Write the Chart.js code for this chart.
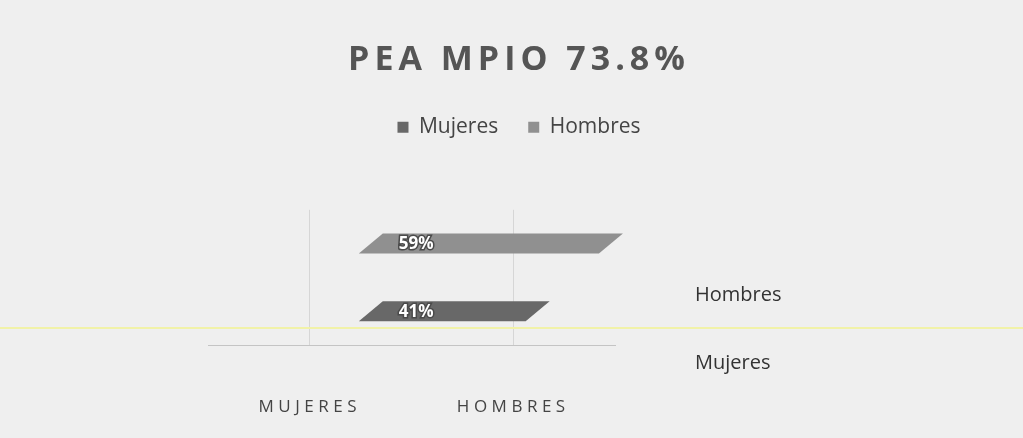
<!DOCTYPE html>
<html lang="es">
<head>
<meta charset="utf-8">
<title>PEA MPIO</title>
<script src="https://cdn.jsdelivr.net/npm/chart.js@4/dist/chart.umd.min.js"></script>
<style>
    html, body { margin: 0; padding: 0; background: #efefef; }
    #wrap { position: relative; width: 1023px; height: 438px; }
    /* linea amarilla del escaneo */
    #scanline { position: absolute; left: 0; top: 327px; width: 1023px; height: 2px; background: #f1f2a8; }
</style>
</head>
<body>
<div id="wrap">
    <canvas id="pea-chart"></canvas>
    <div id="scanline"></div>
</div>
<script>
/* global Chart */
const rowLabels = ['Hombres', 'Mujeres'];
const columnLabels = ['MUJERES', 'HOMBRES'];
const seriesNames = ['Mujeres', 'Hombres'];
const mujeresValues = [null, 41];
const hombresValues = [59, null];
const seriesColors = ['#686868', '#909090'];

const SKEW = 24;

// barras como paralelogramos (efecto 3D del original)
const slantedBars = {
    id: 'slantedBars',
    beforeDatasetDraw(chart, args) {
        const ctx = chart.ctx;
        const ds = chart.data.datasets[args.index];
        args.meta.data.forEach((bar, i) => {
            const value = ds.data[i];
            if (value === null || value === undefined) return;
            const h = bar.height / 2;
            const s = SKEW / 2;
            ctx.save();
            ctx.fillStyle = ds.backgroundColor;
            ctx.beginPath();
            ctx.moveTo(bar.base - s, bar.y + h);
            ctx.lineTo(bar.base + s, bar.y - h);
            ctx.lineTo(bar.x + s, bar.y - h);
            ctx.lineTo(bar.x - s, bar.y + h);
            ctx.closePath();
            ctx.fill();

            const text = value + '%';
            ctx.font = 'bold 17px "Open Sans"';
            ctx.textBaseline = 'middle';
            ctx.textAlign = 'left';
            ctx.lineWidth = 3;
            ctx.strokeStyle = '#4a4a4a';
            ctx.strokeText(text, bar.base + 28, bar.y + 1);
            ctx.fillStyle = '#ffffff';
            ctx.fillText(text, bar.base + 28, bar.y + 1);
            ctx.restore();
        });
        return false;
    }
};

// espaciado de letras en titulo y categorias
const letterSpacing = {
    id: 'letterSpacing',
    afterUpdate(chart) {
        const wrap = (obj, name, spacing) => {
            if (!obj || obj['_sp_' + name]) return;
            const orig = obj[name];
            obj[name] = function() {
                chart.ctx.save();
                chart.ctx.letterSpacing = spacing;
                orig.apply(this, arguments);
                chart.ctx.restore();
            };
            obj['_sp_' + name] = true;
        };
        wrap(chart.titleBlock, 'draw', '5px');
        wrap(chart.scales.xCat, 'drawLabels', '4.5px');
    }
};

const legendSpace = {
    id: 'legendSpace',
    beforeInit(chart) {
        const fit = chart.legend.fit;
        chart.legend.fit = function() {
            fit.bind(chart.legend)();
            this.height += 62;
        };
    }
};

const ctx = document.getElementById('pea-chart').getContext('2d');

new Chart(ctx, {
    type: 'bar',
    data: {
        labels: rowLabels,
        datasets: [
            { label: seriesNames[0], data: mujeresValues, backgroundColor: seriesColors[0] },
            { label: seriesNames[1], data: hombresValues, backgroundColor: seriesColors[1] }
        ]
    },
    options: {
        indexAxis: 'y',
        responsive: true,
        maintainAspectRatio: false,
        animation: false,
        grouped: false,
        barThickness: 20,
        layout: { padding: { left: 208, right: 193, top: 0, bottom: 8 } },
        scales: {
            x: { type: 'linear', min: -40, max: 60, display: false },
            xCat: {
                type: 'category',
                labels: columnLabels,
                position: 'bottom',
                offset: true,
                grid: { offset: false, color: '#d6d6d6', drawTicks: false },
                border: { display: true, color: '#c4c4c4' },
                ticks: { padding: 52, color: '#444', font: { family: 'Open Sans', size: 17 } },
                afterFit(scale) { scale.height = 85; }
            },
            y: {
                position: 'right',
                grid: { display: false },
                border: { display: false },
                ticks: {
                    padding: 72,
                    labelOffset: 52,
                    color: '#333',
                    font: { family: 'Open Sans', size: 20 }
                },
                afterFit(scale) { scale.width = 215; }
            }
        },
        plugins: {
            title: {
                display: true,
                text: 'PEA MPIO 73.8%',
                color: '#555',
                font: { family: 'Open Sans', size: 34, weight: 'bold' },
                padding: { top: 40, bottom: 6 }
            },
            legend: {
                position: 'top',
                labels: {
                    boxWidth: 11,
                    boxHeight: 11,
                    padding: 30,
                    color: '#444',
                    font: { family: 'Open Sans', size: 21 }
                }
            },
            tooltip: { enabled: false }
        }
    },
    plugins: [slantedBars, letterSpacing, legendSpace]
});
</script>
</body>
</html>
